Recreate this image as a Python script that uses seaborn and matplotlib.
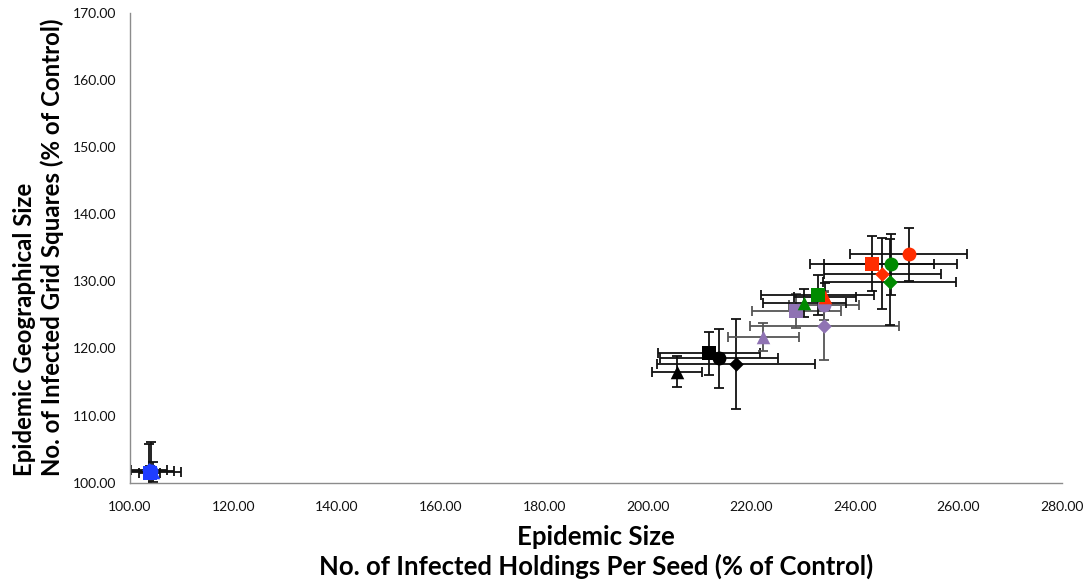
import matplotlib
matplotlib.use("Agg")
import matplotlib.pyplot as plt
import seaborn as sns
import pandas as pd
from matplotlib.ticker import FormatStrFormatter

# ---- data ----
groups = ["Black", "Black", "Black", "Black",
          "Blue", "Blue", "Blue", "Blue",
          "Purple", "Purple", "Purple", "Purple",
          "Red",
          "Green", "Green", "Green", "Green",
          "Red", "Red", "Red"]
shapes = ["triangle", "square", "circle", "diamond",
          "square", "circle", "diamond", "triangle",
          "triangle", "diamond", "square", "circle",
          "triangle",
          "triangle", "square", "circle", "diamond",
          "square", "circle", "diamond"]
x_vals = [205.6, 211.8, 213.7, 217.0,
          103.8, 104.0, 103.6, 104.4,
          222.3, 234.1, 228.7, 234.0,
          234.3,
          230.2, 232.8, 246.9, 246.7,
          243.3, 250.4, 245.3]
y_vals = [116.5, 119.3, 118.5, 117.7,
          101.5, 101.8, 101.9, 101.6,
          121.7, 123.3, 125.6, 126.4,
          127.7,
          126.8, 128.0, 132.5, 129.9,
          132.6, 134.0, 131.1]
x_err = [4.8, 9.9, 11.4, 15.3,
         2.0, 4.5, 3.5, 5.5,
         6.9, 14.4, 8.6, 6.7,
         6.0,
         8.0, 10.9, 12.9, 12.9,
         12.0, 11.3, 11.3]
y_err = [2.3, 3.2, 4.4, 6.7,
         1.0, 4.3, 3.8, 1.5,
         2.1, 5.1, 2.5, 2.2,
         2.0,
         2.1, 3.0, 4.5, 6.4,
         4.1, 3.9, 5.3]
x_ticks = [100, 120, 140, 160, 180, 200, 220, 240, 260, 280]
y_ticks = [100, 110, 120, 130, 140, 150, 160, 170]
x_title = "Epidemic Size\nNo. of Infected Holdings Per Seed (% of Control)"
y_title = "Epidemic Geographical Size\nNo. of Infected Grid Squares (% of Control)"

df = pd.DataFrame({"group": groups, "shape": shapes, "x": x_vals, "y": y_vals,
                   "xerr": x_err, "yerr": y_err})

palette = {"Black": "#000000", "Blue": "#1F3DFF", "Purple": "#8F73B3",
           "Green": "#008A00", "Red": "#FF2D00"}
marker_map = {"triangle": "^", "square": "s", "circle": "o", "diamond": "D"}
size_map = {"triangle": 95, "square": 105, "circle": 100, "diamond": 55}

sns.set_theme(style="white")
plt.rcParams["font.family"] = ["Lato", "DejaVu Sans"]

fig = plt.figure(figsize=(10.85, 5.86), dpi=100)
ax = fig.add_axes([0.1198, 0.1763, 0.859, 0.802])

# error bars
for _, r in df.iterrows():
    ecol = "#555555" if r["group"] == "Purple" else "#111111"
    ax.errorbar(r["x"], r["y"], xerr=r["xerr"], yerr=r["yerr"], fmt="none",
                ecolor=ecol, elinewidth=1.3, capsize=3.5, capthick=1.3, zorder=2)

# markers, row by row to keep draw order
for i, r in df.iterrows():
    sub = df.iloc[[i]]
    sns.scatterplot(data=sub, x="x", y="y", hue="group", palette=palette,
                    marker=marker_map[r["shape"]], s=size_map[r["shape"]],
                    linewidth=0, legend=False, ax=ax, zorder=3 + i * 0.01)

ax.set_xlim(100, 280)
ax.set_ylim(100, 170)
ax.set_xticks(x_ticks)
ax.set_yticks(y_ticks)
ax.xaxis.set_major_formatter(FormatStrFormatter("%.2f"))
ax.yaxis.set_major_formatter(FormatStrFormatter("%.2f"))

for s in ["top", "right"]:
    ax.spines[s].set_visible(False)
for s in ["left", "bottom"]:
    ax.spines[s].set_color("#8c8c8c")
    ax.spines[s].set_linewidth(1.0)
ax.tick_params(axis="both", which="major", direction="out", length=5, width=1,
               color="#8c8c8c", labelsize=10, labelcolor="#111111", pad=5)
ax.tick_params(axis="x", pad=8)

ax.set_xlabel("")
ax.set_ylabel("")
fig.text(0.5495, 0.012, x_title, ha="center", va="bottom", fontsize=18.5,
         fontweight="bold", linespacing=1.2, color="#000000")
fig.text(0.012, 0.578, y_title, ha="left", va="center", rotation=90, fontsize=17.3,
         fontweight="bold", linespacing=1.2, color="#000000")

fig.savefig("out.png", dpi=100)
